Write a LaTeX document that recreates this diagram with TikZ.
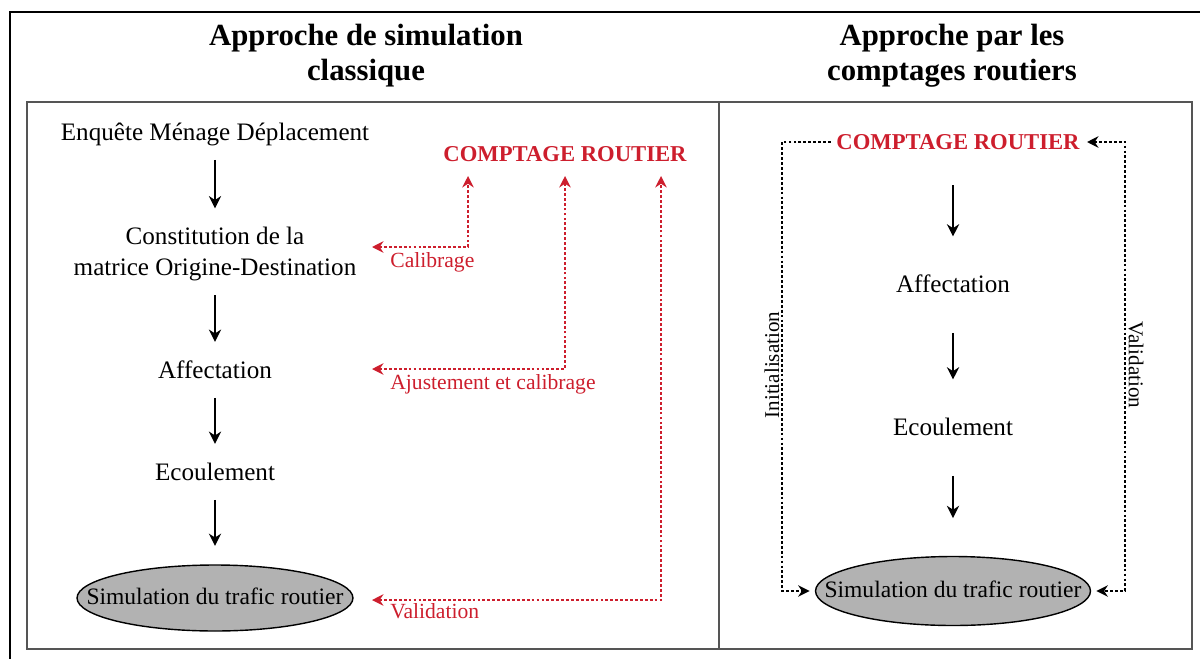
\documentclass[tikz,border=0pt]{standalone}
\usepackage{fontspec}
\setmainfont{Liberation Serif}
\usetikzlibrary{arrows.meta,shapes.geometric}
\definecolor{rougecompt}{RGB}{205,30,45}
\definecolor{grisell}{RGB}{178,178,178}
\definecolor{grisbord}{RGB}{85,85,85}

\begin{document}
\begin{tikzpicture}[x=0.02cm, y=-0.02cm,
    titre/.style={inner sep=0pt, align=center, font=\fontsize{17.5}{20}\selectfont\bfseries},
    etape/.style={inner sep=0pt, text height=10pt, text depth=3pt, font=\fontsize{14.3}{17.6}\selectfont},
    compt/.style={inner sep=0pt, text height=9pt, text depth=0pt, text=rougecompt, font=\fontsize{12.9}{15}\selectfont\bfseries},
    simu/.style={ellipse, draw, line width=0.8pt, fill=grisell, inner xsep=-0.8cm, inner ysep=0pt,
        text height=10pt, text depth=3pt, font=\fontsize{13.4}{15}\selectfont},
    etiq/.style={inner sep=0pt, anchor=west, text=rougecompt, font=\fontsize{12.3}{14}\selectfont},
    etiqv/.style={inner sep=0pt, font=\fontsize{12}{14}\selectfont},
    fleche/.style={-{Stealth[length=7pt,width=7pt]}, line width=0.85pt},
    flecheG/.style={fleche, shorten <=8pt, shorten >=10.5pt},
    flecheD/.style={fleche, shorten <=20pt, shorten >=21.5pt},
    pointille/.style={line width=0.9pt, dash pattern=on 1.6pt off 1.2pt},
    lienrouge/.style={pointille, rougecompt, {Stealth[length=6.5pt,width=6.5pt]}-{Stealth[length=6.5pt,width=6.5pt]}}]
    \useasboundingbox (0,0) rectangle (1200,659);

    % cadres
    \draw[line width=1.7pt] (10,659) -- (10,12) -- (1200,12);
    \draw[grisbord, line width=1.1pt] (27,102) rectangle (1192,649);
    \draw[grisbord, line width=1.1pt] (719,102) -- (719,649);

    % titres
    \node[titre] (titreG) at (366,56) {Approche de simulation\\classique};
    \node[titre] (titreD) at (952,56) {Approche par les\\comptages routiers};

    % approche classique
    \node[etape] (enq)  at (215,134) {Enquête Ménage Déplacement};
    \node[etape, text height=, text depth=, align=center] (odm) at (215,254) {Constitution de la\\matrice Origine-Destination};
    \node[etape] (affG) at (215,372) {Affectation};
    \node[etape] (ecoG) at (215,474) {Ecoulement};
    \node[simu, minimum width=5.52cm, minimum height=1.32cm] (simG) at (215,598) {Simulation du trafic routier};
    \node[compt] (compG) at (565,154) {COMPTAGE ROUTIER};

    \draw[flecheG] (enq) -- (odm);
    \draw[flecheG] (odm) -- (affG);
    \draw[flecheG] (affG) -- (ecoG);
    \draw[flecheG] (ecoG) -- (simG);

    \coordinate (calA) at (468,176);
    \coordinate (calB) at (372,247);
    \coordinate (ajuA) at (565,176);
    \coordinate (ajuB) at (372,369);
    \coordinate (valA) at (661,176);
    \coordinate (valB) at (372,600);
    \draw[lienrouge] (calB) -| (calA);
    \draw[lienrouge] (ajuB) -| (ajuA);
    \draw[lienrouge] (valB) -| (valA);
    \node[etiq] (calib) at (390,262) {Calibrage};
    \node[etiq] (ajust) at (390,384) {Ajustement et calibrage};
    \node[etiq] (validG) at (390,611) {Validation};

    % approche par les comptages
    \node[compt] (compD) at (958,142) {COMPTAGE ROUTIER};
    \node[etape] (affD) at (953,286) {Affectation};
    \node[etape] (ecoD) at (953,429) {Ecoulement};
    \node[simu, minimum width=5.5cm, minimum height=1.38cm] (simD) at (953,591) {Simulation du trafic routier};

    \draw[flecheD] (compD.south -| affD) -- (affD);
    \draw[flecheD] (affD) -- (ecoD);
    \draw[flecheD] (ecoD) -- (simD);

    \coordinate (coinI) at (782,591);
    \coordinate (coinV) at (1125,591);
    \draw[pointille, -{Stealth[length=6.5pt,width=6.5pt]}, shorten <=3pt, shorten >=3pt] (compD.west) -| (coinI) -- (simD.west);
    \draw[pointille, {Stealth[length=6.5pt,width=6.5pt]}-{Stealth[length=6.5pt,width=6.5pt]}, shorten <=4pt, shorten >=3pt] (compD.east) -| (coinV) -- (simD.east);
    \node[etiqv, rotate=90] (init) at (772,365) {Initialisation};
    \node[etiqv, rotate=-90] (validD) at (1136,365) {Validation};

\end{tikzpicture}
\end{document}
